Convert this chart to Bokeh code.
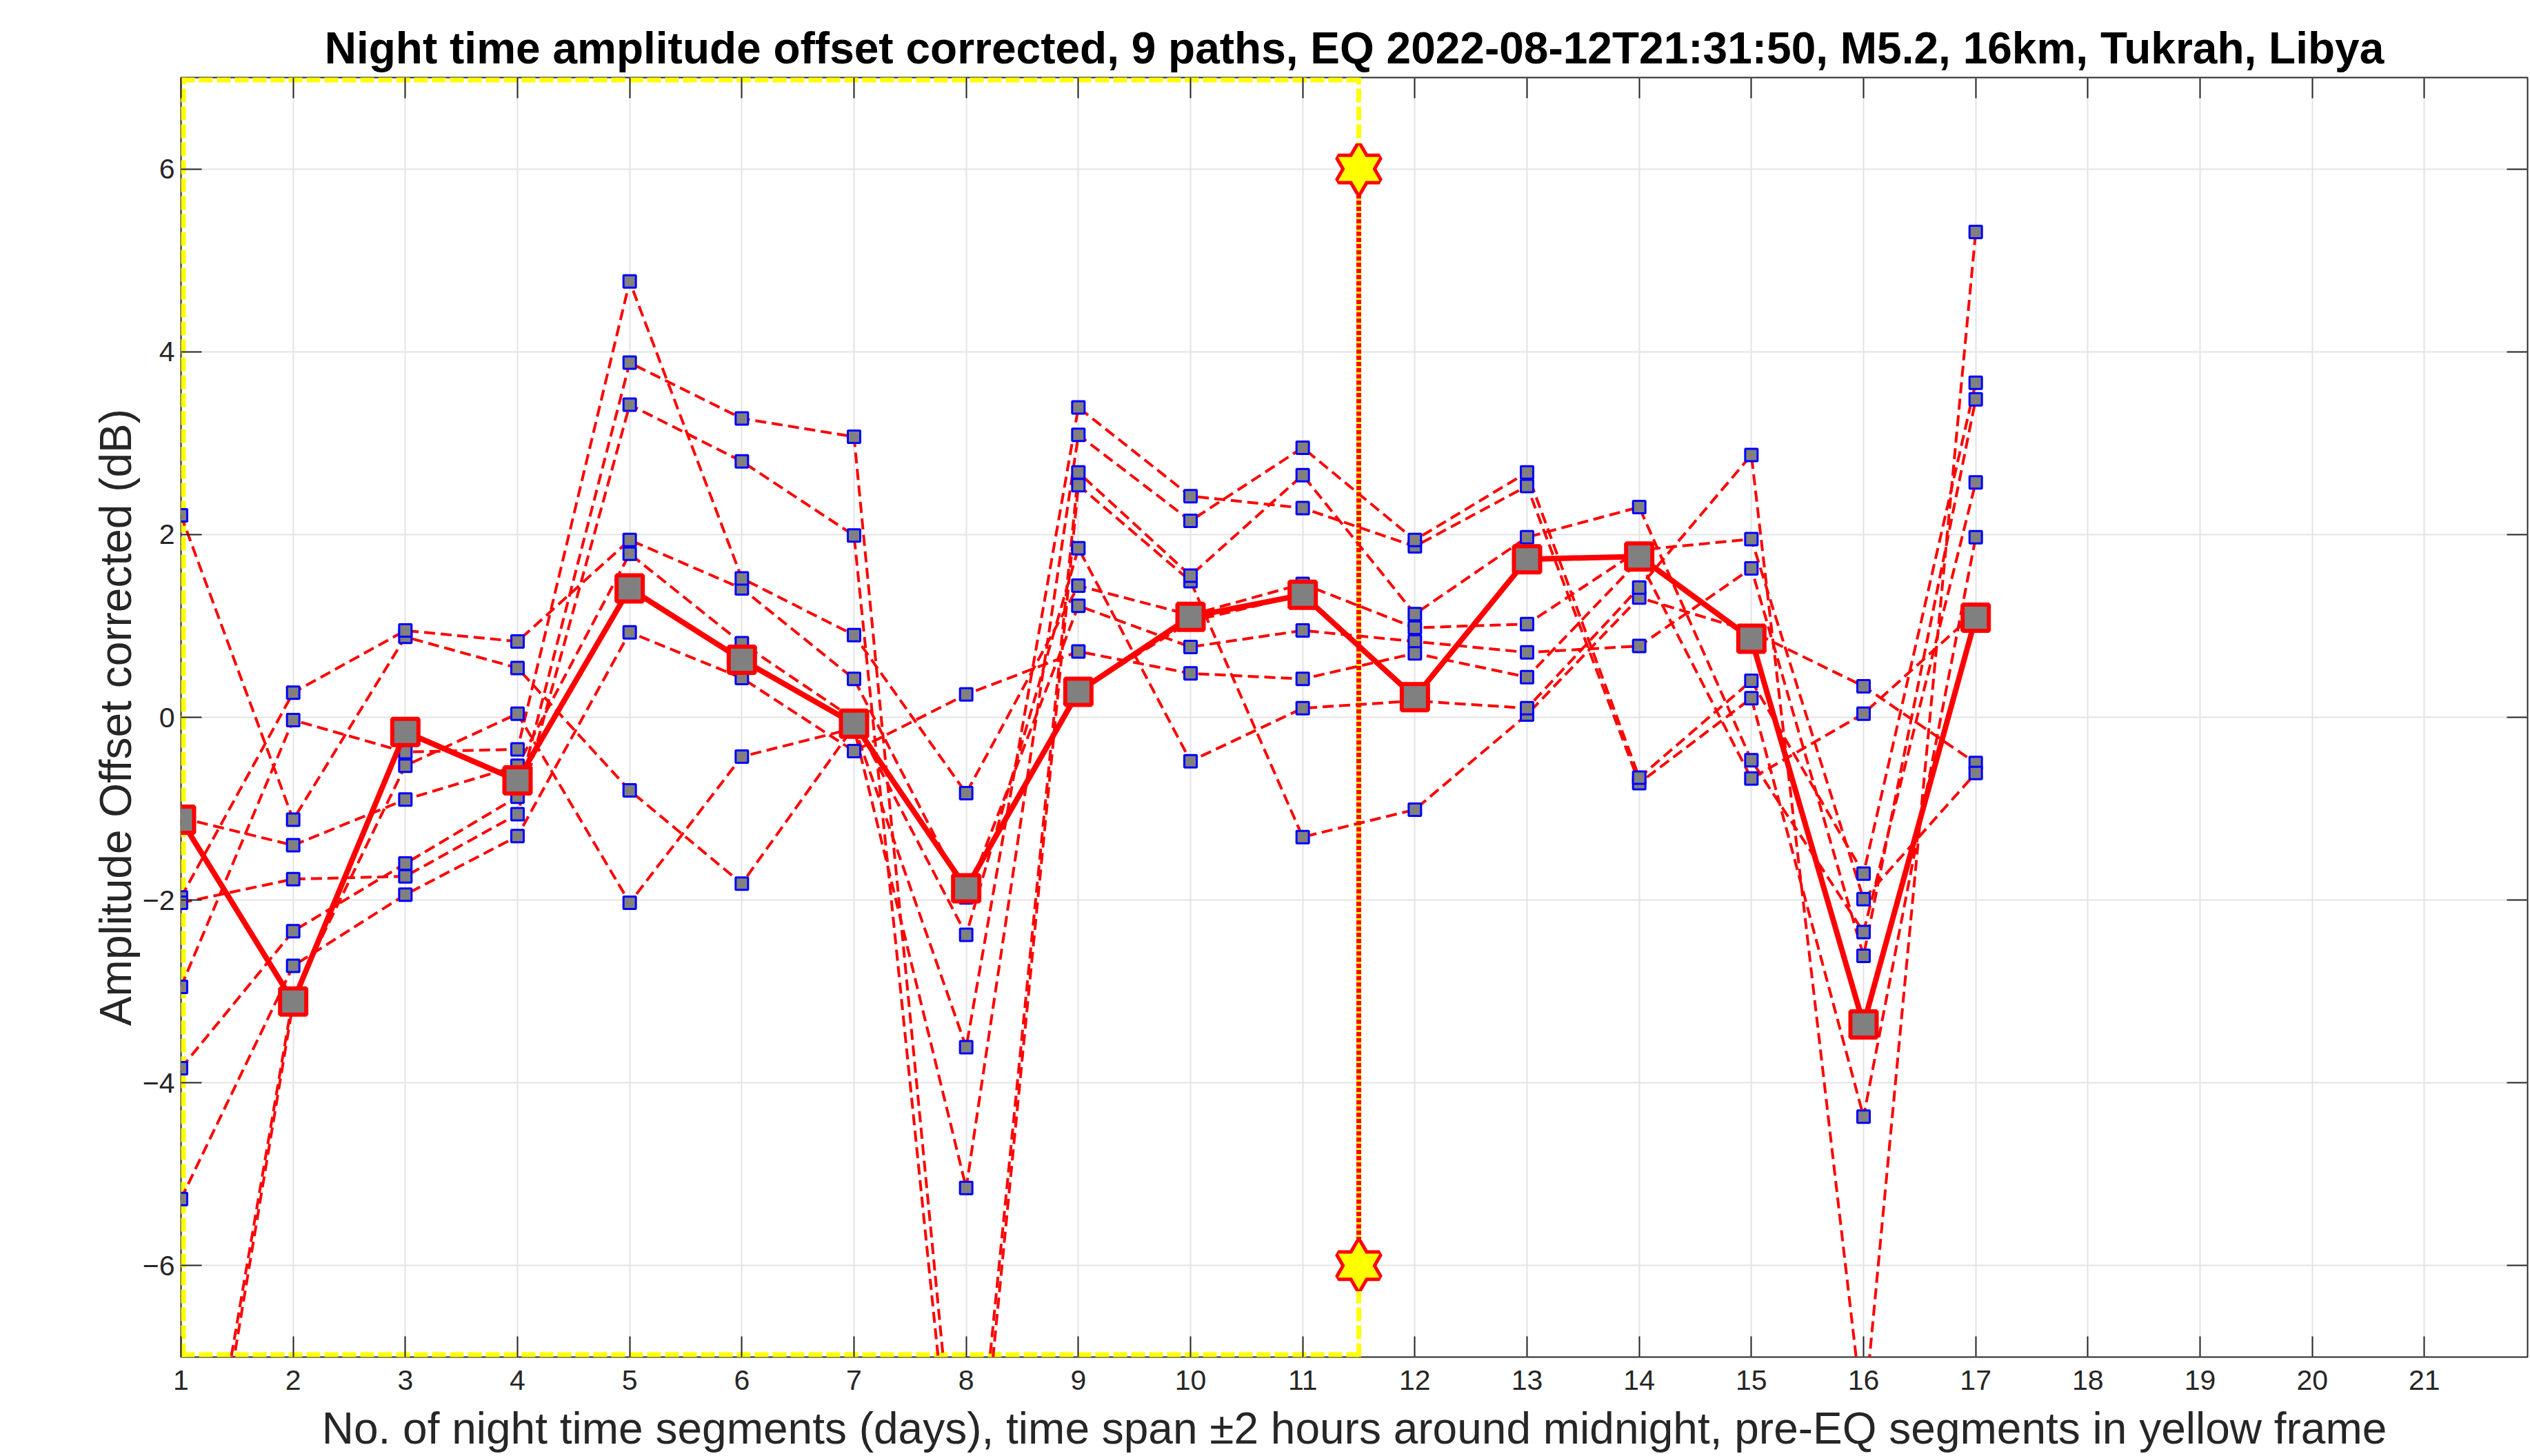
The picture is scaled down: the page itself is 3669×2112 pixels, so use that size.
from bokeh.plotting import figure
from bokeh.models import Range1d, LinearAxis, FixedTicker, CustomLabelingPolicy
from bokeh.embed import file_html
from bokeh.resources import INLINE

# ---------------- data ----------------
days = list(range(1, 18))

path_a = [2.21, -1.12, 0.88, 0.54, -0.80, -1.82, -0.10, -3.61, 3.39, 2.42, 2.29, 1.87, 2.53, -0.72, 0.21, -4.37, 1.97]
path_b = [-1.97, 0.27, 0.95, 0.83, 1.94, 1.41, 0.42, -1.97, 1.22, 0.77, 0.95, 0.83, 0.71, 0.78, 1.63, -2.61, 3.48]
path_c = [-2.03, -1.77, -1.74, -1.06, 3.42, 2.80, 1.99, -10.0, 2.54, 1.49, -1.31, -1.01, 0.03, 1.31, 0.94, 0.34, -0.50]
path_d = [-2.95, -0.03, -0.38, -0.35, 4.77, 1.52, 0.90, -0.83, 1.44, 1.12, 1.46, 0.98, 1.02, 1.83, 1.95, -1.99, -0.61]
path_e = [-3.84, -2.34, -1.60, -0.87, 3.88, 3.27, 3.07, -9.6, 2.68, 1.55, 2.65, 1.13, 1.97, 2.30, -0.47, -2.35, 2.57]
path_f = [-5.27, -2.72, -1.94, -1.30, 0.93, 0.43, -0.37, 0.25, 0.72, 0.48, 0.42, 0.70, 0.44, 1.72, -0.67, 0.04, 1.15]
path_g = [-10.2, -3.05, -0.53, 0.04, -2.03, -0.43, -0.12, -5.15, 3.09, 2.15, 2.95, 1.94, 2.68, -0.66, 0.40, -1.71, 3.66]
path_h = [-10.5, -3.12, -0.16, -0.69, 1.41, 0.63, -0.07, -1.85, 0.28, 1.05, 1.34, 0.22, 1.73, 1.76, 0.86, -3.36, 1.09]
path_i = [-1.10, -1.40, -0.90, -0.53, 1.79, 0.81, -0.02, -2.38, 1.85, -0.48, 0.10, 0.18, 0.10, 1.42, 2.87, -7.7, 5.31]
paths = [path_a, path_b, path_c, path_d, path_e, path_f, path_g, path_h, path_i]

mean_vals = [-1.12, -3.11, -0.16, -0.69, 1.41, 0.63, -0.07, -1.87, 0.28, 1.10, 1.34, 0.22, 1.73, 1.76, 0.86, -3.36, 1.09]

pre_eq_start = 1
eq_x = 11.5
star_y = [6, -6]
y_lim = (-7, 7)
x_ticks = list(range(1, 23))
y_ticks = [-6, -4, -2, 0, 2, 4, 6]

title_text = "Night time amplitude offset corrected, 9 paths, EQ 2022-08-12T21:31:50, M5.2, 16km, Tukrah, Libya"
x_label = "No. of night time segments (days), time span \u00b12 hours around midnight, pre-EQ segments in yellow frame"
y_label = "Amplitude Offset corrected (dB)"

FONT = "Liberation Sans"
DARK = "#262626"

# ---------------- figure ----------------
p = figure(width=3669, height=2112,
           x_range=Range1d(1, 21.92), y_range=Range1d(*y_lim),
           output_backend="svg", toolbar_location=None,
           min_border_left=262, min_border_right=0,
           min_border_top=112, min_border_bottom=144)
p.background_fill_color = "white"
p.border_fill_color = "white"
p.outline_line_color = DARK
p.outline_line_width = 2

p.title.text = title_text
p.title.align = "center"
p.title.text_font = FONT
p.title.text_font_size = "64px"
p.title.text_font_style = "bold"
p.title.text_color = "black"
p.title.standoff = 5

# axes
for ax in (p.xaxis[0], p.yaxis[0]):
    ax.major_tick_in = 30
    ax.major_tick_out = 0
    ax.minor_tick_line_color = None
    ax.axis_line_color = None
    ax.major_tick_line_color = DARK
    ax.major_tick_line_width = 2
    ax.major_label_text_font = FONT
    ax.major_label_text_font_size = "41px"
    ax.major_label_text_color = DARK
    ax.axis_label_text_font = FONT
    ax.axis_label_text_font_size = "64px"
    ax.axis_label_text_font_style = "normal"
    ax.axis_label_text_color = DARK

p.xaxis[0].ticker = FixedTicker(ticks=x_ticks)
p.yaxis[0].ticker = FixedTicker(ticks=y_ticks)
p.xaxis[0].axis_label = x_label
p.yaxis[0].axis_label = y_label
p.xaxis[0].major_label_standoff = 19
p.xaxis[0].axis_label_standoff = 17
p.yaxis[0].major_label_standoff = 9
p.yaxis[0].axis_label_standoff = 0

hide_all = CustomLabelingPolicy(code="""
for (const i of indices) indices.unset(i)
return indices
""")
top_ax = LinearAxis(ticker=FixedTicker(ticks=x_ticks))
right_ax = LinearAxis(ticker=FixedTicker(ticks=y_ticks))
for ax in (top_ax, right_ax):
    ax.major_tick_in = 30
    ax.major_tick_out = 0
    ax.minor_tick_line_color = None
    ax.axis_line_color = None
    ax.major_tick_line_color = DARK
    ax.major_tick_line_width = 2
    ax.major_label_text_font_size = "1px"
    ax.major_label_standoff = 0
    ax.major_label_policy = hide_all
p.add_layout(top_ax, "above")
p.add_layout(right_ax, "right")

p.xgrid.ticker = FixedTicker(ticks=x_ticks)
p.ygrid.ticker = FixedTicker(ticks=y_ticks)
p.grid.grid_line_color = "#e3e3e3"
p.grid.grid_line_width = 2

# yellow frame for pre-EQ segments (left, bottom, top, right edges)
frame_x0 = [pre_eq_start, pre_eq_start, pre_eq_start, eq_x]
frame_x1 = [pre_eq_start, eq_x, eq_x, eq_x]
frame_y0 = [y_lim[0], y_lim[0], y_lim[1], y_lim[0]]
frame_y1 = [y_lim[1], y_lim[0], y_lim[1], y_lim[1]]
frame_w = [14, 14, 14, 7]
p.segment(x0=frame_x0, y0=frame_y0, x1=frame_x1, y1=frame_y1,
          line_color="#ffff00", line_width=frame_w, line_dash="20 6")

# EQ marker line
p.segment(x0=[eq_x], y0=[star_y[1]], x1=[eq_x], y1=[star_y[0]],
          line_color="#ffff00", line_width=7)
p.segment(x0=[eq_x], y0=[star_y[1]], x1=[eq_x], y1=[star_y[0]],
          line_color="#ff0000", line_width=7, line_dash="6 3")

# individual paths
for vals in paths:
    p.line(days, vals, line_color="#ff0000", line_width=4, line_dash="16 8")
for vals in paths:
    p.scatter(days, vals, marker="square", size=18, fill_color="#808080",
              line_color="#0000ff", line_width=3)

# mean
p.line(days, mean_vals, line_color="#ff0000", line_width=8)
p.scatter(days, mean_vals, marker="square", size=38, fill_color="#808080",
          line_color="#ff0000", line_width=6)

# stars (hexagram from two triangles)
sx = [eq_x] * len(star_y)
for m in ("triangle", "inverted_triangle"):
    p.scatter(sx, star_y, marker=m, size=60, fill_color="#ffff00",
              line_color="#ff0000", line_width=10)
for m in ("triangle", "inverted_triangle"):
    p.scatter(sx, star_y, marker=m, size=60, fill_color="#ffff00",
              line_color=None)

open("out.html", "w").write(file_html(p, INLINE))
